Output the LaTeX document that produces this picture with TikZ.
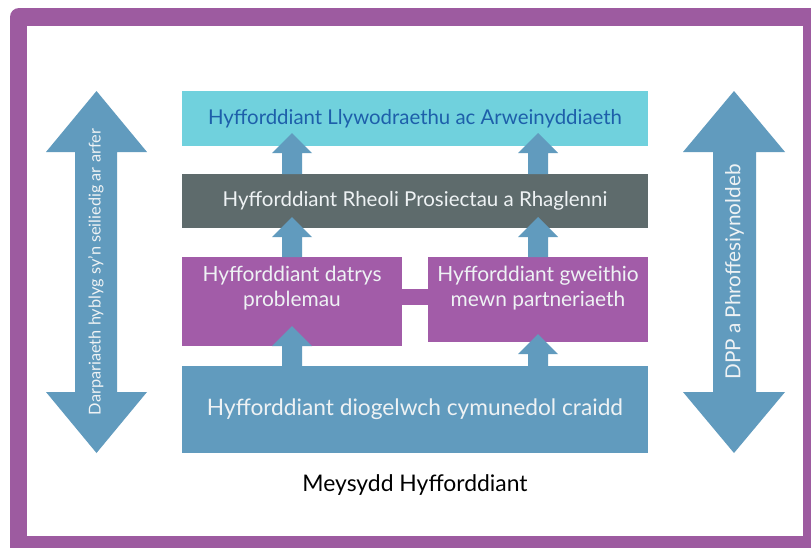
\documentclass[tikz,border=0pt]{standalone}
\usepackage{fontspec}
\setmainfont{Lato}
\usetikzlibrary{calc}
\definecolor{framec}{HTML}{9D5BA0}
\definecolor{cyanc}{HTML}{70D1DD}
\definecolor{topt}{HTML}{1D5FAA}
\definecolor{grayc}{HTML}{5E6B6C}
\definecolor{purc}{HTML}{A25CA8}
\definecolor{bluec}{HTML}{619BBE}
\definecolor{lightt}{HTML}{EEF2F4}
\tikzset{
  box/.style={rectangle, inner sep=0pt, outer sep=0pt},
  boxtext/.style={align=center, text=lightt, inner sep=0pt},
  blkarrow/.pic={\fill[bluec] (0,0) -- (20,20) -- (10,20) -- (10,#1) -- (-10,#1) -- (-10,20) -- (-20,20) -- cycle;},
}
\begin{document}
\begin{tikzpicture}[x=1pt,y=-1pt]
\useasboundingbox (0,0) rectangle (811,547);
\fill[white] (0,0) rectangle (811,547);
\begin{scope}
\clip (0,0) rectangle (811,547);
\fill[framec, rounded corners=9pt] (10,8) rectangle (840,570);
\fill[white] (27,26) rectangle (803,536);
\end{scope}

% boxes
\node[box, fill=cyanc, minimum width=466pt, minimum height=55pt] (top) at (415,118.5) {};
\node[text=topt, font=\fontsize{20.4}{24}\selectfont] (toptxt) at (top.center) {Hyfforddiant Llywodraethu ac Arweinyddiaeth};
\node[box, fill=grayc, minimum width=466pt, minimum height=54pt] (gray) at (415,201) {};
\node[boxtext, font=\fontsize{20.5}{24}\selectfont] (graytxt) at (gray.center) {Hyfforddiant Rheoli Prosiectau a Rhaglenni};
\node[box, fill=purc, minimum width=220pt, minimum height=89pt] (pl) at (292,301.5) {};
\node[box, fill=purc, minimum width=220pt, minimum height=85pt] (pr) at (538,299.5) {};
\fill[purc] ($(pl.east)+(-1,-12.5)$) rectangle ($(pr.west |- pl.east)+(1,3.5)$);
\node[boxtext, font=\fontsize{20.9}{25}\selectfont] (pltxt) at ($(pl.center)+(0,-13.5)$) {Hyfforddiant datrys\\problemau};
\node[boxtext, font=\fontsize{20.9}{25}\selectfont] (prtxt) at ($(pr.center)+(0,-11.5)$) {Hyfforddiant gweithio\\mewn partneriaeth};
\node[box, fill=bluec, minimum width=466pt, minimum height=87pt] (base) at (415,409.5) {};
\node[boxtext, font=\fontsize{22.7}{27}\selectfont] (basetxt) at (base.center) {Hyfforddiant diogelwch cymunedol craidd};
\node[font=\fontsize{22.9}{27}\selectfont, text=black] (title) at (415,485.5) {Meysydd Hyfforddiant};

% small up arrows
\path (top.south -| pl.center) ++(0,-13) pic {blkarrow=41};
\path (top.south -| pr.center) ++(0,-13) pic {blkarrow=41};
\path (gray.south -| pl.center) ++(0,-11) pic {blkarrow=40};
\path (gray.south -| pr.center) ++(0,-11) pic {blkarrow=40};
\path (pl.south) ++(0,-20) pic {blkarrow=40};
\path (pr.south) ++(0,-8) pic {blkarrow=32};

% side double arrows
\fill[bluec] (96.5,91) -- (147,152) -- (117,152) -- (117,392) -- (147,392) -- (96.5,453) -- (46,392) -- (75,392) -- (75,152) -- (46,152) -- cycle;
\node[rotate=90, text=lightt, font=\fontsize{16.3}{19}\selectfont] (ltxt) at (96,272) {Darpariaeth hyblyg sy’n seiliedig ar arfer};
\fill[bluec] (734,91) -- (785,152) -- (756,152) -- (756,392) -- (785,392) -- (734,453) -- (683,392) -- (713,392) -- (713,152) -- (683,152) -- cycle;
\node[rotate=90, text=lightt, font=\fontsize{20.7}{24}\selectfont] (rtxt) at (734.5,272) {DPP a Phroffesiynoldeb};
\end{tikzpicture}
\end{document}
